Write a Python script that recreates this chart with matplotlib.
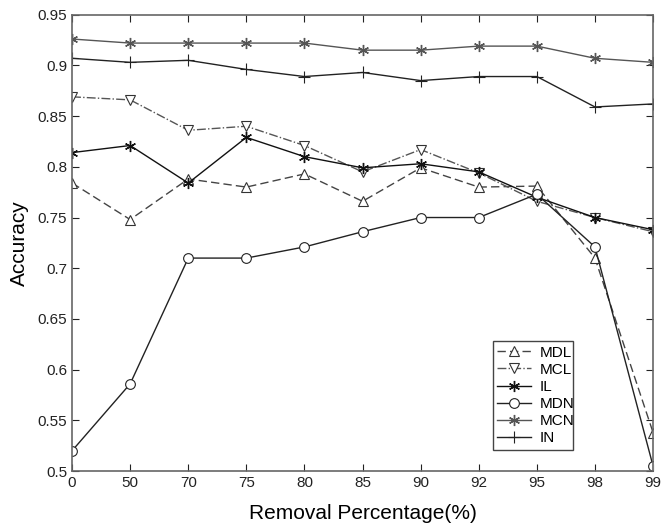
import numpy as np
import matplotlib.pyplot as plt

plt.rcParams['font.family'] = ['Liberation Sans', 'DejaVu Sans']

# removal percentage categories (equally spaced on the axis)
removal = ["0", "50", "70", "75", "80", "85", "90", "92", "95", "98", "99"]

mdl = [0.784, 0.748, 0.788, 0.780, 0.793, 0.766, 0.799, 0.780, 0.781, 0.710, 0.538]
mcl = [0.869, 0.866, 0.836, 0.840, 0.821, 0.795, 0.817, 0.794, 0.766, 0.750, 0.736]
il = [0.814, 0.821, 0.784, 0.829, 0.810, 0.799, 0.803, 0.795, 0.770, 0.750, 0.738]
mdn = [0.520, 0.586, 0.710, 0.710, 0.721, 0.736, 0.750, 0.750, 0.773, 0.721, 0.505]
mcn = [0.926, 0.922, 0.922, 0.922, 0.922, 0.915, 0.915, 0.919, 0.919, 0.907, 0.903]
inn = [0.907, 0.903, 0.905, 0.896, 0.889, 0.893, 0.885, 0.889, 0.889, 0.859, 0.862]

x = np.arange(len(removal))
asterisk = (6, 2, 0)

fig = plt.figure(figsize=(6.61, 5.24), dpi=100)
ax = fig.add_axes([0.109, 0.101, 0.879, 0.871])

ax.plot(x, mdl, color='#444444', ls=(0, (6, 3)), lw=1, marker='^', ms=7,
        mfc='white', mec='#333333', mew=0.8, label='MDL')
ax.plot(x, mcl, color='#555555', ls='-.', lw=1, marker='v', ms=7,
        mfc='white', mec='#333333', mew=0.8, label='MCL')
ax.plot(x, il, color='#111111', ls='-', lw=1, marker=asterisk, ms=8,
        mec='#111111', mew=1.0, label='IL')
ax.plot(x, mdn, color='#222222', ls='-', lw=1, marker='o', ms=7,
        mfc='white', mec='#222222', mew=0.8, label='MDN')
ax.plot(x, mcn, color='#555555', ls='-', lw=1, marker=asterisk, ms=8,
        mec='#555555', mew=1.0, label='MCN')
ax.plot(x, inn, color='#222222', ls='-', lw=1, marker='+', ms=9,
        mew=0.8, label='IN')

ax.set_xlim(0, len(removal) - 1)
ax.set_ylim(0.5, 0.95)
ax.set_xticks(x)
ax.set_xticklabels(removal)
ax.set_yticks(np.arange(0.5, 0.951, 0.05))
ax.set_yticklabels(["0.5", "0.55", "0.6", "0.65", "0.7", "0.75", "0.8", "0.85", "0.9", "0.95"])
ax.tick_params(direction='in', top=True, right=True, length=5, labelsize=11, colors='#222222')
for s in ax.spines.values():
    s.set_color('#666666')
    s.set_linewidth(1.2)

ax.set_xlabel("Removal Percentage(%)", fontsize=15, labelpad=10)
ax.set_ylabel("Accuracy", fontsize=15, labelpad=6)

leg = ax.legend(loc='lower left', bbox_to_anchor=(0.724, 0.047, 0.138, 0.214),
                mode='expand', fontsize=11, handlelength=2.2, borderaxespad=0,
                labelspacing=0.2, handletextpad=0.6, fancybox=False, framealpha=1,
                edgecolor='#444444', borderpad=0.3)

fig.savefig('out.png', dpi=100)
